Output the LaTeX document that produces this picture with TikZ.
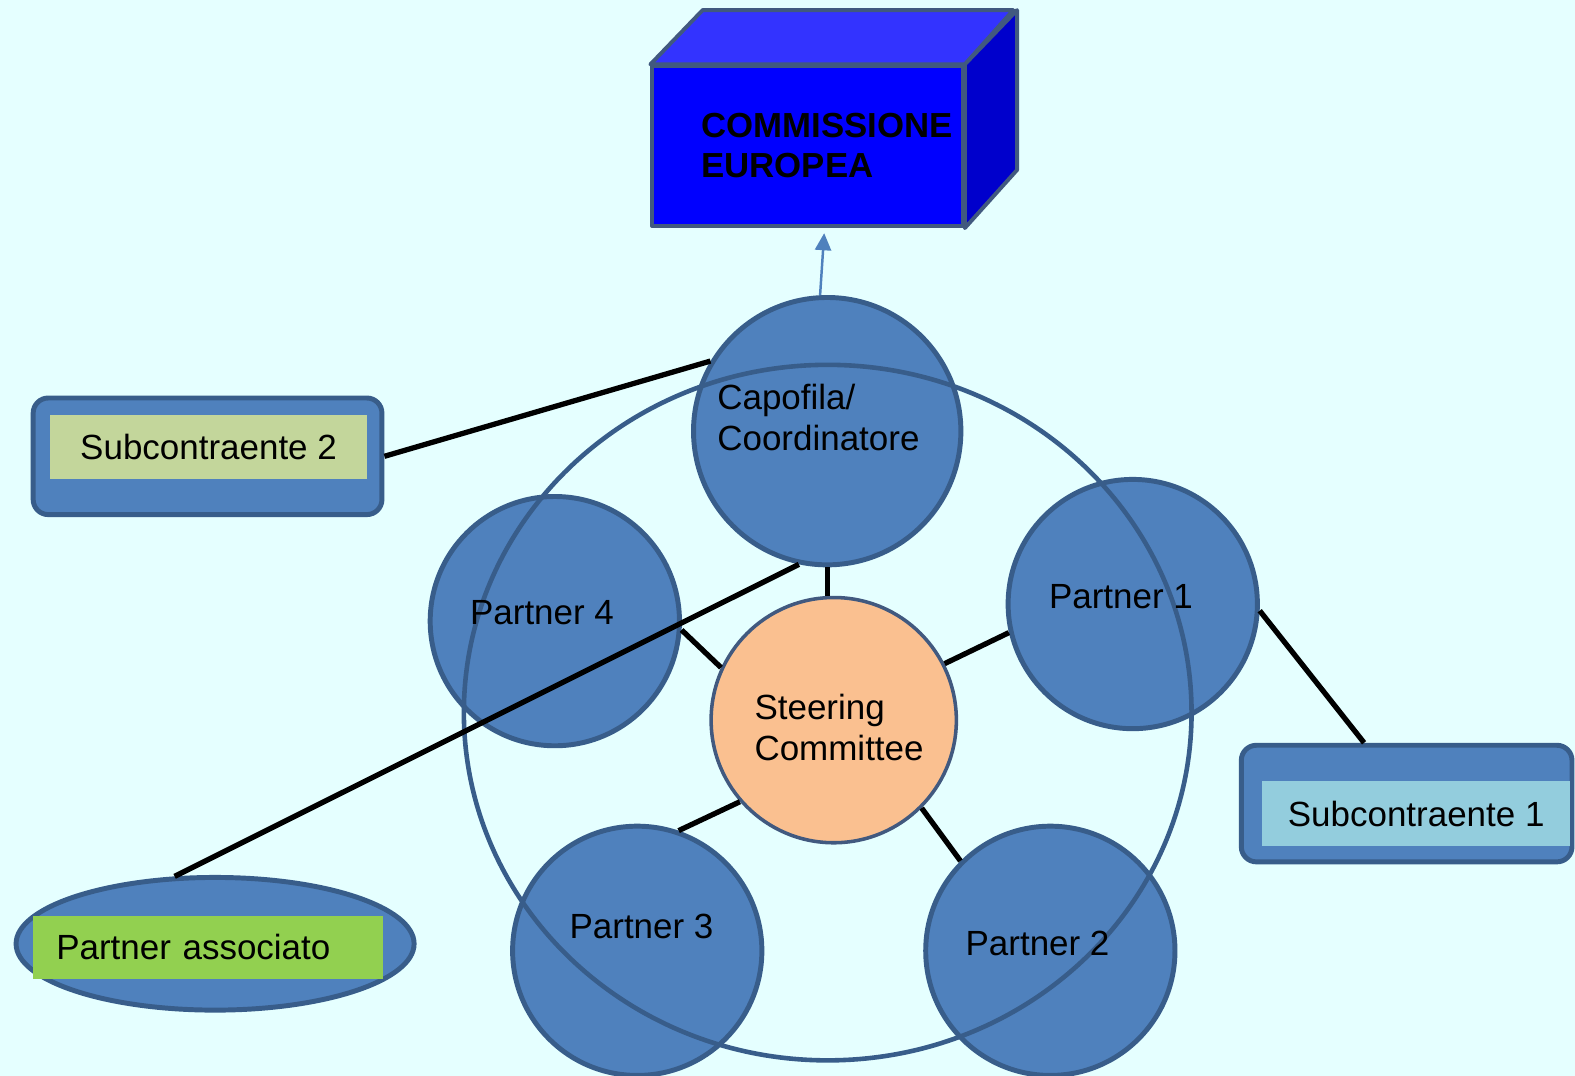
\documentclass[tikz,border=0pt]{standalone}
\usepackage{fontspec}
\setmainfont{Liberation Sans}
\usetikzlibrary{arrows.meta, positioning, shapes.geometric}
\definecolor{bgcyan}{HTML}{E5FFFF}
\definecolor{nodeblue}{HTML}{4F81BD}
\definecolor{edgeblue}{HTML}{385D8A}
\definecolor{steerorange}{HTML}{FAC090}
\definecolor{subgreen}{HTML}{C3D69B}
\definecolor{subcyan}{HTML}{93CDDD}
\definecolor{assocgreen}{HTML}{92D050}
\definecolor{boxfront}{HTML}{0000FF}
\definecolor{boxtop}{HTML}{3333FF}
\definecolor{boxside}{HTML}{0000CC}
\definecolor{boxedge}{HTML}{41597F}
\tikzset{
    member/.style={circle, draw=edgeblue, fill=nodeblue, line width=1.4pt, minimum size=2.48cm, inner sep=0pt},
    steerc/.style={circle, draw=boxedge, fill=steerorange, line width=1pt, minimum size=2.44cm, inner sep=0pt},
    lbl/.style={anchor=west, align=left, inner sep=0pt, font=\fontsize{9.9}{11.7}\selectfont},
    subframe/.style={rectangle, rounded corners=0.15cm, draw=edgeblue, fill=nodeblue, line width=1.4pt, minimum width=3.47cm, minimum height=1.16cm},
    subtag/.style={rectangle, inner sep=0pt, minimum width=3.15cm, minimum height=0.64cm, font=\fontsize{9.9}{11.7}\selectfont},
    link/.style={line width=1.5pt, black},
    ring/.style={draw=edgeblue, line width=1.3pt},
    face/.style={draw=boxedge, line width=1.1pt, line join=round}
}

\begin{document}
\begin{tikzpicture}
    \useasboundingbox (0,0.053) rectangle (15.67,10.75);
    \clip (0,0.053) rectangle (15.67,10.75);
    \fill[bgcyan] (0,0) rectangle (15.67,10.75);
    % Commissione Europea box
    \node[rectangle, face, fill=boxfront, minimum width=3.09cm, minimum height=1.59cm] (eu) at (8.035,9.295) {};
    \draw[face, fill=boxtop] (eu.north west) -- ++(0.52,0.54) -- ++(3.09,0) -- (eu.north east) -- cycle;
    \draw[face, fill=boxside] (eu.north east) -- ++(0.52,0.54) -- ++(0,-1.59) -- (eu.south east) -- cycle;
    \node[lbl, font=\bfseries\fontsize{9.85}{11.4}\selectfont] (eut) at (6.97,9.305) {COMMISSIONE\\EUROPEA};
    % members
    \node[member, minimum size=2.66cm] (cap) at (8.23,6.46) {};
    \node[member] (p4) at (5.52,4.57) {};
    \node[member] (p1) at (11.27,4.74) {};
    \node[member] (p3) at (6.34,1.29) {};
    \node[member] (p2) at (10.45,1.29) {};
    \node[steerc] (sc) at (8.295,3.585) {};
    % ring
    \draw[ring] (8.235,3.66) ellipse (3.62 and 3.46);
    % subcontractors
    \node[subframe] (sub2) at (2.065,6.21) {};
    \node[subtag, fill=subgreen] (sub2t) at (2.075,6.30) {Subcontraente 2};
    \node[subframe, minimum width=3.29cm] (sub1) at (13.995,2.755) {};
    \node[subtag, fill=subcyan, minimum width=3.06cm] (sub1t) at (14.09,2.655) {Subcontraente 1};
    % partner associato
    \node[ellipse, draw=edgeblue, fill=nodeblue, line width=1.4pt, minimum width=3.96cm, minimum height=1.32cm, inner sep=0pt] (pa) at (2.14,1.36) {};
    \node[subtag, fill=assocgreen, minimum width=3.48cm, minimum height=0.63cm, text width=3.02cm, inner xsep=0.23cm, align=left] (pat) at (2.07,1.325) {Partner associato};
    % labels
    \node[lbl] (capt) at (7.13,6.595) {Capofila/\\Coordinatore};
    \node[lbl] (sct) at (7.50,3.515) {Steering\\Committee};
    \node[lbl] (p4t) at (4.67,4.65) {Partner 4};
    \node[lbl] (p1t) at (10.43,4.81) {Partner 1};
    \node[lbl] (p3t) at (5.66,1.53) {Partner 3};
    \node[lbl] (p2t) at (9.60,1.36) {Partner 2};
    % links
    \draw[link] (cap.south) -- (cap.south |- sc.north);
    \draw[link] (p4.-4) -- (sc.155);
    \draw[link] (p1.193) -- (sc.27);
    \draw[link] (p3.71) -- (sc.221);
    \draw[link] (p2.135) -- (sc.-45);
    \draw[link] (sub2.east) -- (cap.149);
    \draw[link] (pa.121) -- (cap.258);
    \draw[link] (p1.-3) -- (sub1.125);
    % to the Commission
    \coordinate (tip) at (8.20,8.43);
    \draw[-{Triangle[length=0.17cm, width=0.16cm]}, nodeblue, line width=0.7pt] (cap.93) -- (tip);
\end{tikzpicture}
\end{document}
